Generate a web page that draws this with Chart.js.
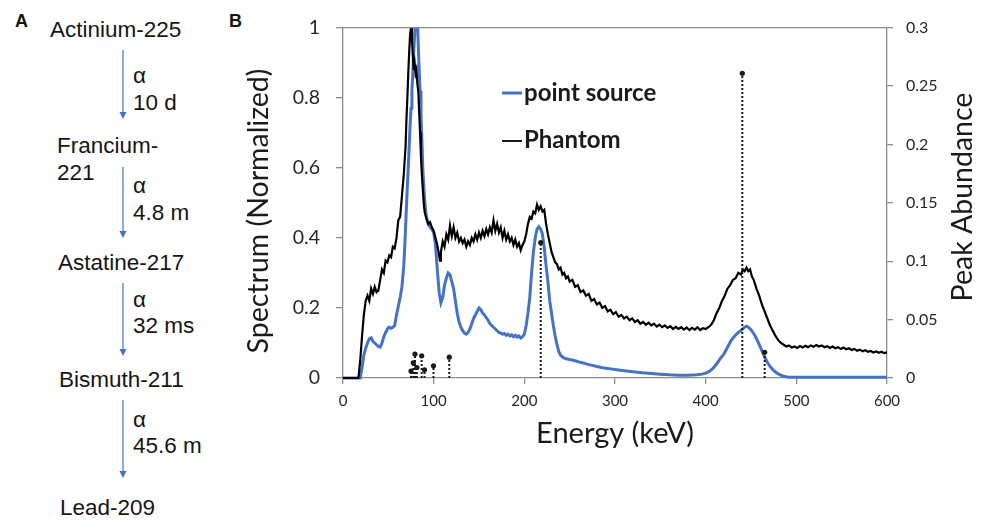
<!DOCTYPE html>
<html>
<head>
<meta charset="utf-8">
<script src="https://cdn.jsdelivr.net/npm/chart.js@4/dist/chart.umd.min.js"></script>
<style>
  html, body { margin: 0; padding: 0; background: #fff; }
  #wrap  { position: relative; width: 986px; height: 521px; overflow: hidden; }
  #chain { position: absolute; left: 0; top: 0; }
  #box   { position: absolute; left: 230px; top: 0; width: 756px; height: 521px; }
</style>
</head>
<body>
<div id="wrap">
  <!-- Panel A: Ac-225 decay chain -->
  <svg id="chain" width="250" height="521" font-family="'Liberation Sans', Arial, sans-serif" font-size="22.5" fill="#151515">
    <text x="15" y="27" font-size="18" font-weight="bold">A</text>
    <text x="229" y="27" font-size="18" font-weight="bold">B</text>

    <text x="50" y="37">Actinium-225</text>
    <text x="133" y="83">α</text>
    <text x="133" y="110">10 d</text>

    <text x="57" y="153">Francium-</text>
    <text x="57" y="180">221</text>
    <text x="133" y="193">α</text>
    <text x="133" y="220">4.8 m</text>

    <text x="58" y="270">Astatine-217</text>
    <text x="133" y="307">α</text>
    <text x="133" y="333">32 ms</text>

    <text x="59" y="387">Bismuth-211</text>
    <text x="133" y="427">α</text>
    <text x="133" y="453">45.6 m</text>

    <text x="60" y="515">Lead-209</text>

    <g stroke="#4472C4" stroke-width="1.2">
      <line x1="123" y1="50"  x2="123" y2="113"/>
      <line x1="123" y1="167" x2="123" y2="232"/>
      <line x1="123" y1="283" x2="123" y2="350"/>
      <line x1="123" y1="400" x2="123" y2="472"/>
    </g>
    <g fill="#4472C4">
      <polygon points="119.5,112 126.5,112 123,119"/>
      <polygon points="119.5,231 126.5,231 123,238"/>
      <polygon points="119.5,349 126.5,349 123,356"/>
      <polygon points="119.5,471 126.5,471 123,478"/>
    </g>
  </svg>

  <!-- Panel B: spectrum -->
  <div id="box"><canvas id="spec"></canvas></div>
</div>

<script>
// axis ticks
const energyTicks    = [0, 100, 200, 300, 400, 500, 600];
const spectrumTicks  = [0, 0.2, 0.4, 0.6, 0.8, 1];
const abundanceTicks = [0, 0.05, 0.1, 0.15, 0.2, 0.25, 0.3];

// Phantom spectrum (normalized)
const phantomEnergy = [
  0, 5, 10, 15, 17, 19, 21, 23, 25, 27,
  29, 31, 33, 35, 37, 39, 41, 43, 45, 47,
  49, 51, 53, 55, 57, 59, 61, 63, 65, 67,
  69, 70, 71, 72, 73, 74, 75, 76, 77, 78,
  79, 80, 81, 82, 83, 84, 85, 86, 87, 88,
  89, 90, 92, 94, 96, 98, 100, 102, 104, 106,
  107, 108, 110, 112, 114, 116, 118, 120, 122, 124,
  126, 128, 130, 132, 134, 136, 138, 140, 142, 144,
  146, 148, 150, 152, 154, 156, 158, 160, 162, 164,
  166, 168, 170, 172, 174, 176, 178, 180, 182, 184,
  186, 188, 190, 192, 194, 196, 198, 200, 202, 204,
  206, 208, 210, 212, 214, 216, 218, 220, 222, 224,
  226, 228, 230, 232, 234, 236, 238, 240, 242, 244,
  246, 248, 250, 253, 256, 259, 262, 265, 268, 271,
  274, 277, 280, 283, 286, 289, 292, 295, 298, 301,
  304, 307, 310, 313, 316, 319, 322, 325, 328, 331,
  334, 337, 340, 343, 346, 349, 352, 355, 358, 361,
  364, 367, 370, 373, 376, 379, 382, 385, 388, 391,
  394, 397, 400, 403, 406, 409, 412, 415, 418, 421,
  424, 427, 430, 433, 436, 439, 441, 443, 445, 447,
  449, 451, 453, 456, 459, 462, 465, 468, 471, 474,
  477, 480, 483, 486, 489, 492, 495, 498, 501, 504,
  507, 510, 513, 516, 519, 522, 525, 528, 531, 534,
  537, 540, 543, 546, 549, 552, 555, 558, 561, 564,
  567, 570, 573, 576, 579, 582, 585, 588, 591, 594,
  597, 600
];
const phantomCounts = [
  0, 0, 0, 0, 0, 0.05, 0.12, 0.18, 0.22, 0.235,
  0.22, 0.255, 0.24, 0.26, 0.245, 0.25, 0.28, 0.31, 0.30, 0.335,
  0.33, 0.35, 0.345, 0.375, 0.37, 0.40, 0.45, 0.46, 0.52, 0.58,
  0.66, 0.74, 0.80, 0.87, 0.93, 0.98, 1.0, 0.97, 0.92, 0.88,
  0.90, 0.87, 0.88, 0.84, 0.82, 0.76, 0.70, 0.63, 0.58, 0.54,
  0.50, 0.475, 0.455, 0.44, 0.445, 0.43, 0.42, 0.40, 0.38, 0.35,
  0.335, 0.36, 0.39, 0.375, 0.41, 0.395, 0.435, 0.405, 0.43, 0.40,
  0.415, 0.39, 0.40, 0.385, 0.395, 0.375, 0.39, 0.38, 0.40, 0.39,
  0.41, 0.395, 0.415, 0.40, 0.42, 0.405, 0.425, 0.41, 0.43, 0.415,
  0.45, 0.42, 0.44, 0.415, 0.43, 0.40, 0.42, 0.395, 0.41, 0.39,
  0.40, 0.38, 0.395, 0.375, 0.385, 0.365, 0.38, 0.39, 0.41, 0.44,
  0.46, 0.455, 0.475, 0.47, 0.495, 0.48, 0.49, 0.475, 0.48, 0.44,
  0.41, 0.385, 0.36, 0.345, 0.33, 0.325, 0.31, 0.315, 0.295, 0.30,
  0.285, 0.29, 0.275, 0.28, 0.26, 0.265, 0.245, 0.25, 0.235, 0.24,
  0.22, 0.225, 0.21, 0.215, 0.20, 0.205, 0.19, 0.195, 0.182, 0.188,
  0.175, 0.18, 0.17, 0.175, 0.165, 0.17, 0.16, 0.165, 0.155, 0.16,
  0.152, 0.158, 0.15, 0.155, 0.147, 0.152, 0.145, 0.15, 0.143, 0.148,
  0.14, 0.146, 0.14, 0.145, 0.138, 0.144, 0.137, 0.143, 0.138, 0.145,
  0.137, 0.142, 0.14, 0.145, 0.152, 0.165, 0.185, 0.20, 0.22, 0.235,
  0.255, 0.265, 0.28, 0.285, 0.30, 0.295, 0.31, 0.305, 0.315, 0.305,
  0.31, 0.29, 0.28, 0.255, 0.235, 0.21, 0.19, 0.17, 0.15, 0.135,
  0.12, 0.108, 0.10, 0.095, 0.09, 0.093, 0.087, 0.09, 0.086, 0.091,
  0.087, 0.092, 0.088, 0.093, 0.089, 0.094, 0.09, 0.093, 0.088, 0.091,
  0.086, 0.09, 0.085, 0.088, 0.083, 0.087, 0.082, 0.085, 0.08, 0.083,
  0.078, 0.081, 0.076, 0.079, 0.075, 0.077, 0.073, 0.076, 0.072, 0.075,
  0.071, 0.073
];

// Point source spectrum (normalized)
const pointEnergy = [
  0, 5, 10, 15, 19, 21, 23, 25, 27, 29,
  31, 33, 35, 37, 39, 41, 43, 45, 47, 49,
  51, 53, 55, 57, 59, 61, 63, 65, 67, 68,
  69, 70, 71, 72, 73, 74, 75, 76, 77, 78,
  79, 80, 81, 82, 83, 84, 85, 86, 87, 88,
  89, 90, 91, 92, 94, 96, 98, 100, 102, 104,
  106, 108, 110, 112, 114, 116, 118, 120, 122, 124,
  126, 128, 130, 132, 134, 136, 138, 140, 142, 144,
  146, 148, 150, 152, 154, 156, 158, 160, 162, 164,
  166, 168, 170, 172, 174, 176, 178, 180, 182, 184,
  186, 188, 190, 192, 194, 196, 198, 200, 202, 204,
  206, 208, 210, 212, 214, 216, 218, 220, 222, 224,
  226, 228, 230, 232, 234, 236, 238, 240, 243, 246,
  250, 255, 260, 265, 270, 275, 280, 285, 290, 295,
  300, 310, 320, 330, 340, 350, 360, 370, 380, 390,
  396, 400, 404, 408, 412, 416, 420, 424, 428, 432,
  436, 440, 443, 445, 447, 450, 453, 456, 459, 462,
  465, 468, 471, 474, 478, 482, 486, 490, 495, 500,
  520, 550, 580, 600
];
const pointCounts = [
  0, 0, 0, 0, 0, 0.03, 0.065, 0.085, 0.10, 0.112,
  0.115, 0.105, 0.10, 0.095, 0.09, 0.088, 0.10, 0.118, 0.13, 0.14,
  0.145, 0.142, 0.145, 0.15, 0.18, 0.205, 0.23, 0.26, 0.32, 0.37,
  0.43, 0.49, 0.55, 0.60, 0.66, 0.72, 0.77, 0.82, 0.87, 0.93,
  0.98, 1.04, 1.06, 1.03, 0.95, 0.88, 0.82, 0.75, 0.68, 0.60,
  0.55, 0.51, 0.48, 0.46, 0.44, 0.43, 0.425, 0.415, 0.38, 0.31,
  0.245, 0.215, 0.23, 0.265, 0.285, 0.30, 0.295, 0.275, 0.255, 0.22,
  0.185, 0.16, 0.145, 0.135, 0.128, 0.125, 0.13, 0.14, 0.155, 0.17,
  0.18, 0.19, 0.20, 0.195, 0.185, 0.18, 0.172, 0.165, 0.155, 0.15,
  0.145, 0.14, 0.135, 0.13, 0.128, 0.125, 0.127, 0.122, 0.125, 0.12,
  0.123, 0.118, 0.122, 0.117, 0.12, 0.114, 0.118, 0.125, 0.15, 0.185,
  0.23, 0.30, 0.36, 0.40, 0.425, 0.432, 0.425, 0.41, 0.37, 0.32,
  0.275, 0.22, 0.185, 0.15, 0.12, 0.095, 0.075, 0.065, 0.058, 0.055,
  0.053, 0.05, 0.046, 0.043, 0.039, 0.036, 0.033, 0.03, 0.028, 0.026,
  0.024, 0.021, 0.018, 0.015, 0.013, 0.011, 0.009, 0.008, 0.008, 0.009,
  0.011, 0.014, 0.019, 0.027, 0.04, 0.055, 0.068, 0.087, 0.107, 0.12,
  0.13, 0.138, 0.145, 0.148, 0.145, 0.138, 0.127, 0.113, 0.096, 0.078,
  0.06, 0.045, 0.033, 0.024, 0.015, 0.009, 0.005, 0.003, 0.002, 0.002,
  0.002, 0.002, 0.002, 0.002
];

// gamma / x-ray lines (right axis)
const lineEnergy    = [75.0, 77.5, 79.4, 81.5, 86.8, 89.9, 99.8, 117.2, 218.1, 440.4, 465.1];
const lineAbundance = [0.006, 0.013, 0.0205, 0.009, 0.019, 0.007, 0.0104, 0.0178, 0.116, 0.261, 0.022];

const AXIS = "#8c8c8c";
const INK  = "#1a1a1a";
const BLUE = "#4472C4";

function pts(xs, ys) { return xs.map((x, i) => ({ x, y: ys[i] })); }

// each line: baseline point, top point, gap
const stemPts = [];
lineEnergy.forEach((e, i) => {
  stemPts.push({ x: e, y: 0 }, { x: e, y: lineAbundance[i] }, { x: e, y: null });
});

function fixTicks(list) {
  return scale => { scale.ticks = list.map(v => ({ value: v })); };
}

function vText(ctx, text, x, y) {
  ctx.save();
  ctx.translate(x, y);
  ctx.rotate(-Math.PI / 2);
  ctx.fillText(text, 0, 0);
  ctx.restore();
}

// frame top, vertical titles and the in-plot legend
const decor = {
  id: "decor",
  afterDraw(chart) {
    const { ctx, chartArea: a, scales } = chart;
    ctx.save();
    ctx.strokeStyle = AXIS;
    ctx.lineWidth = 1.3;
    ctx.beginPath();
    ctx.moveTo(a.left, a.top);
    ctx.lineTo(a.right, a.top);
    ctx.stroke();

    ctx.fillStyle = INK;
    ctx.font = "28.5px Lato";
    ctx.textAlign = "center";
    ctx.textBaseline = "middle";
    vText(ctx, "Spectrum (Normalized)", 29, 211);
    vText(ctx, "Peak Abundance", scales.y1.right - 23, 197);

    // legend
    ctx.lineCap = "butt";
    ctx.strokeStyle = BLUE; ctx.lineWidth = 3;
    ctx.beginPath(); ctx.moveTo(272, 93); ctx.lineTo(292, 93); ctx.stroke();
    ctx.strokeStyle = INK; ctx.lineWidth = 2;
    ctx.beginPath(); ctx.moveTo(272, 141); ctx.lineTo(292, 141); ctx.stroke();
    ctx.font = "bold 24px Lato";
    ctx.textAlign = "left";
    ctx.textBaseline = "alphabetic";
    ctx.fillText("point source", 294, 101);
    ctx.fillText("Phantom", 294, 148);
    ctx.restore();
  }
};

new Chart(document.getElementById("spec"), {
  type: "line",
  data: {
    datasets: [
      {
        label: "lines",
        data: stemPts,
        yAxisID: "y1",
        borderColor: INK,
        borderWidth: 2,
        borderDash: [2, 2],
        spanGaps: false,
        pointRadius: c => (c.raw && c.raw.y > 0 ? 2.6 : 0),
        pointBackgroundColor: INK,
        pointBorderWidth: 0,
        clip: false
      },
      {
        label: "Phantom",
        data: pts(phantomEnergy, phantomCounts),
        yAxisID: "y",
        borderColor: "#000",
        borderWidth: 2.2,
        pointRadius: 0,
        tension: 0,
        clip: { left: 0, top: 0, right: 0, bottom: 3 }
      },
      {
        label: "point source",
        data: pts(pointEnergy, pointCounts),
        yAxisID: "y",
        borderColor: BLUE,
        borderWidth: 3,
        pointRadius: 0,
        tension: 0,
        clip: { left: 0, top: 0, right: 0, bottom: 3 }
      }
    ]
  },
  options: {
    responsive: true,
    maintainAspectRatio: false,
    animation: false,
    devicePixelRatio: 1,
    events: [],
    layout: { padding: { top: 23, left: 0, right: 0, bottom: 0 } },
    plugins: { legend: { display: false }, tooltip: { enabled: false } },
    scales: {
      x: {
        type: "linear",
        min: 0, max: 600,
        afterBuildTicks: fixTicks(energyTicks),
        afterFit: s => { s.height = 143; },
        ticks: { color: "#262626", font: { family: "Lato", size: 15 }, padding: 8, maxRotation: 0, autoSkip: false },
        grid: { drawOnChartArea: false, tickLength: 6, color: AXIS, lineWidth: 1.3 },
        border: { color: AXIS, width: 1.3 },
        title: { display: true, text: "Energy (keV)", color: INK, font: { family: "Lato", size: 29 }, padding: { top: 0, bottom: 70 } }
      },
      y: {
        position: "left",
        min: 0, max: 1,
        afterBuildTicks: fixTicks(spectrumTicks),
        afterFit: s => { s.width = 113; },
        ticks: { color: "#262626", font: { family: "Lato", size: 19.5 }, padding: 16, callback: v => String(v) },
        grid: { drawOnChartArea: false, tickLength: 7, color: AXIS, lineWidth: 1.3 },
        border: { color: AXIS, width: 1.3 }
      },
      y1: {
        position: "right",
        min: 0, max: 0.3,
        afterBuildTicks: fixTicks(abundanceTicks),
        afterFit: s => { s.width = 99; },
        ticks: { color: "#262626", font: { family: "Lato", size: 16 }, padding: 13, callback: v => String(v) },
        grid: { drawOnChartArea: false, tickLength: 6, color: AXIS, lineWidth: 1.3 },
        border: { color: AXIS, width: 1.3 }
      }
    }
  },
  plugins: [decor]
});
</script>
</body>
</html>
